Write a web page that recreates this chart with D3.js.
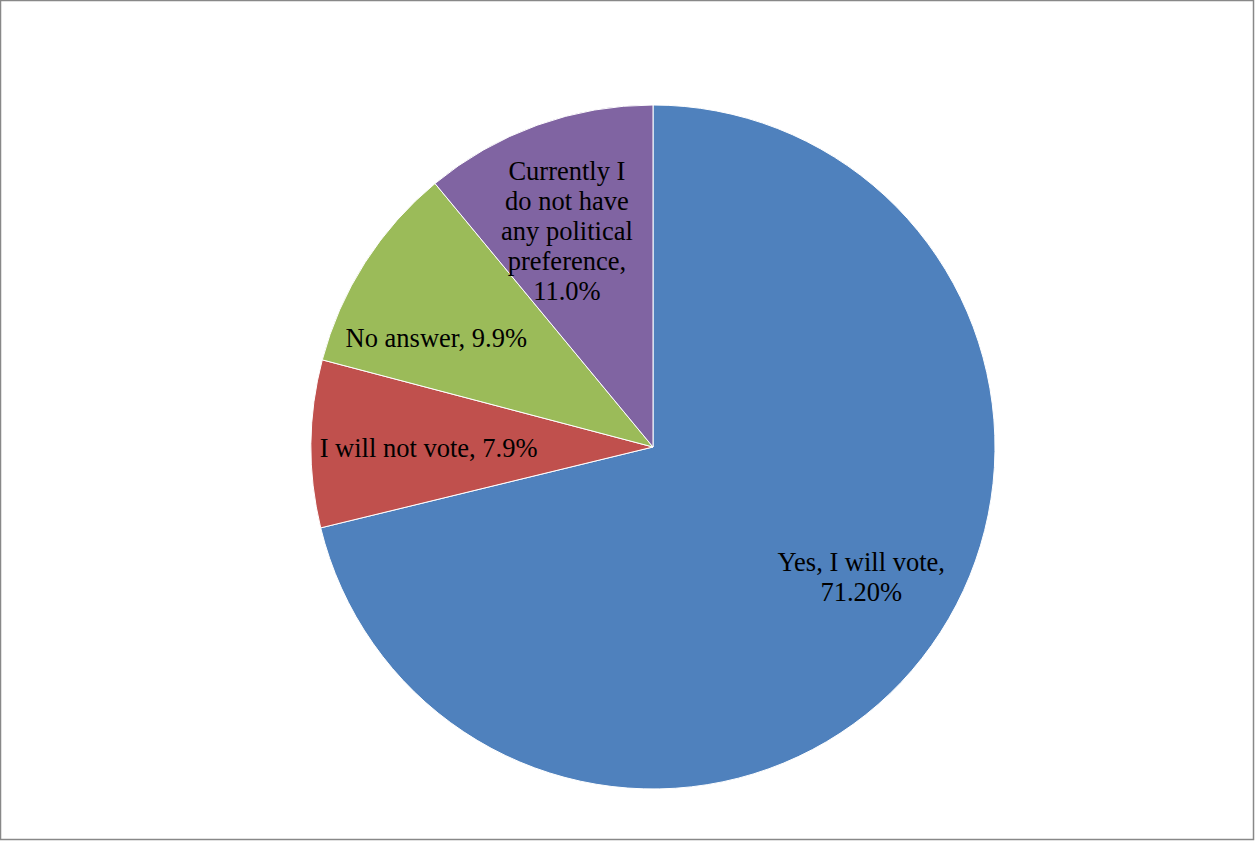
<!DOCTYPE html>
<html>
<head>
    <script src="https://d3js.org/d3.v7.min.js"></script>
    <style>
        body { margin: 0; background: #fff; }
        text {
            fill: #000;
            font-family: "Liberation Serif", "Times New Roman", serif;
            font-size: 26.5px;
        }
    </style>
</head>
<body>
    <div id="pie-chart"></div>
    <script>
        var categories = ["Yes, I will vote", "I will not vote", "No answer", "Currently I do not have any political preference"];
        var values = [71.2, 7.9, 9.9, 11.0];
        var labelLines = [
            ["Yes, I will vote,", "71.20%"],
            ["I will not vote, 7.9%"],
            ["No answer, 9.9%"],
            ["Currently I", "do not have", "any political", "preference,", "11.0%"]
        ];
        var colors = ["#4F81BD", "#C0504D", "#9BBB59", "#8064A2"];

        var width = 1255, height = 842;
        var cx = 653, cy = 447, radius = 342;
        // small nudges of the labels off the centroid (best-fit placement)
        var labelNudge = [[20, -18], [15, 3], [-15, 20], [-5, 9]];

        var data = categories.map(function (c, i) {
            return { name: c, value: values[i], lines: labelLines[i], color: colors[i], nudge: labelNudge[i] };
        });

        var svg = d3.select("#pie-chart")
            .append("svg")
            .attr("width", width)
            .attr("height", height);

        // chart frame
        svg.append("rect")
            .attr("x", 0.5)
            .attr("y", 0.5)
            .attr("width", 1253)
            .attr("height", 839)
            .style("fill", "none")
            .style("stroke", "#888")
            .style("stroke-width", 1.5);

        var pie = d3.pie()
            .sort(null)
            .value(function (d) { return d.value; });

        var arc = d3.arc().innerRadius(0).outerRadius(radius);
        var labelArc = d3.arc().innerRadius(radius * 0.7).outerRadius(radius * 0.7);

        var g = svg.append("g")
            .attr("transform", "translate(" + cx + "," + cy + ")");

        var slices = g.selectAll(".slice")
            .data(pie(data))
            .enter()
            .append("g")
            .attr("class", "slice");

        slices.append("path")
            .attr("d", arc)
            .style("fill", function (d) { return d.data.color; })
            .style("stroke", "#fff")
            .style("stroke-width", 1);

        var lineHeight = 30;
        var text = slices.append("text")
            .attr("transform", function (d) {
                var c = labelArc.centroid(d);
                return "translate(" + (c[0] + d.data.nudge[0]) + "," + (c[1] + d.data.nudge[1]) + ")";
            })
            .style("text-anchor", "middle");

        text.each(function (d) {
            var n = d.data.lines.length;
            var t = d3.select(this);
            d.data.lines.forEach(function (line, i) {
                t.append("tspan")
                    .attr("x", 0)
                    .attr("y", (i - (n - 1) / 2) * lineHeight)
                    .attr("dy", "0.35em")
                    .text(line);
            });
        });
    </script>
</body>
</html>
